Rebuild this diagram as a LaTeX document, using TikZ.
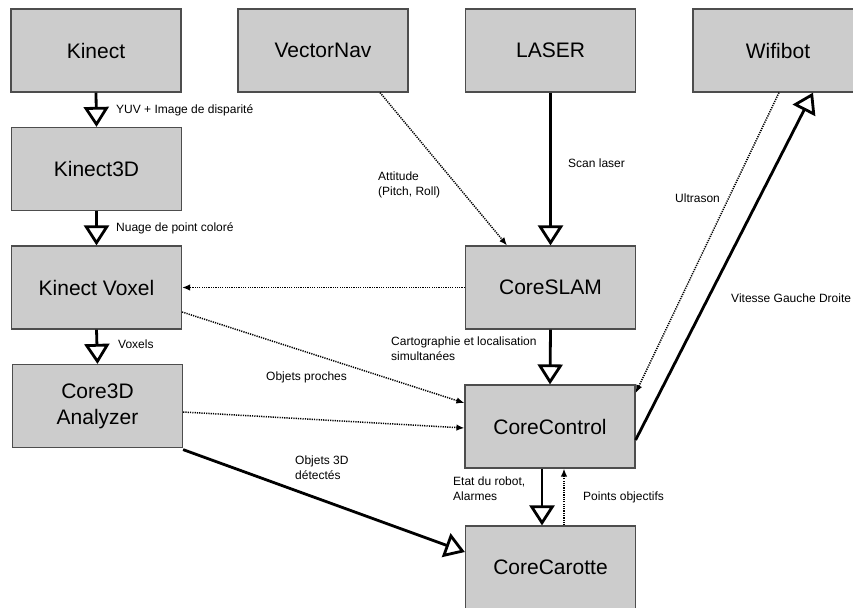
\documentclass[tikz,border=0pt]{standalone}
\usepackage{fontspec}
\setmainfont{Liberation Sans}
\usetikzlibrary{arrows.meta}
\definecolor{boxfill}{HTML}{CCCCCC}
\definecolor{boxdraw}{HTML}{4D4D4D}
\tikzset{
  box/.style={draw=boxdraw, fill=boxfill, line width=1.2pt, minimum width=170pt, minimum height=83pt, inner sep=0pt, align=center, font=\fontsize{21}{26}\selectfont},
  lbl/.style={anchor=west, inner sep=0pt, align=left, font=\fontsize{12}{15}\selectfont},
  thickflow/.style={line width=2.8pt, -{Triangle[open, length=20pt, width=25pt, line width=2.8pt]}},
  dotflow/.style={line width=1.5pt, dash pattern=on 1.2pt off 1.1pt, -{Latex[length=8pt, width=6.5pt]}},
}
\begin{document}
\begin{tikzpicture}[x=1pt,y=-1pt]
\useasboundingbox (0,0) rectangle (853,607);
\clip (0,0) rectangle (853,607);
% boxes
\node[box] (kinect) at (96,50.5) {Kinect};
\node[box] (vectornav) at (323,50.5) {VectorNav};
\node[box] (laser) at (550.5,50.5) {LASER};
\node[box] (wifibot) at (778,50.5) {Wifibot};
\node[box] (kinect3d) at (96.5,169) {Kinect3D};
\node[box] (kvoxel) at (96.5,287.5) {Kinect Voxel};
\node[box] (core3d) at (97.5,406) {Core3D\\Analyzer};
\node[box] (coreslam) at (550.5,287.5) {CoreSLAM};
\node[box] (corecontrol) at (550,426.5) {CoreControl};
\node[box] (corecarotte) at (550.5,567.5) {CoreCarotte};
% thick connectors
\draw[thickflow] (kinect.south) -- (kinect3d.north);
\draw[thickflow] (kinect3d.south) -- (kvoxel.north);
\draw[thickflow] (kvoxel.south) -- (core3d.north);
\draw[thickflow] (laser.south) -- (coreslam.north);
\draw[thickflow] (coreslam.south) -- (corecontrol.south |- corecontrol.north);
\draw[thickflow] ([xshift=-8pt]corecontrol.south) -- ([xshift=-8.5pt]corecarotte.north);
\draw[thickflow] ([yshift=-1.5pt]core3d.south east) -- ([yshift=15.5pt]corecarotte.west);
\draw[thickflow] ([yshift=-13.5pt]corecontrol.east) -- ([xshift=35pt]wifibot.south);
% dotted connectors
\draw[dotflow] ([xshift=57pt]vectornav.south) -- ([xshift=-43.5pt]coreslam.north);
\draw[dotflow] (coreslam.west) -- (kvoxel.east);
\draw[dotflow] ([yshift=-24.5pt]kvoxel.east) -- ([yshift=23.5pt]corecontrol.west);
\draw[dotflow] ([yshift=-6pt]core3d.east) -- ([yshift=-1.5pt]corecontrol.west);
\draw[dotflow] ([xshift=13.5pt]corecarotte.north) -- ([xshift=14pt]corecontrol.south);
\draw[dotflow] ([xshift=1pt]wifibot.south) -- ([yshift=33.5pt]corecontrol.east);
% labels
\node[lbl] (l1) at (116,110) {YUV + Image de disparité};
\node[lbl] (l2) at (116,228) {Nuage de point coloré};
\node[lbl] (l3) at (118,344) {Voxels};
\node[lbl] (l4) at (378,184.5) {Attitude\\(Pitch, Roll)};
\node[lbl] (l5) at (568,163) {Scan laser};
\node[lbl] (l6) at (391,348.5) {Cartographie et localisation\\simultanées};
\node[lbl] (l7) at (266,377) {Objets proches};
\node[lbl] (l8) at (295,467.5) {Objets 3D\\détectés};
\node[lbl] (l9) at (453,489) {Etat du robot,\\Alarmes};
\node[lbl] (l10) at (583,497) {Points objectifs};
\node[lbl] (l11) at (675,198) {Ultrason};
\node[lbl] (l12) at (731,298) {Vitesse Gauche Droite};
\end{tikzpicture}
\end{document}
